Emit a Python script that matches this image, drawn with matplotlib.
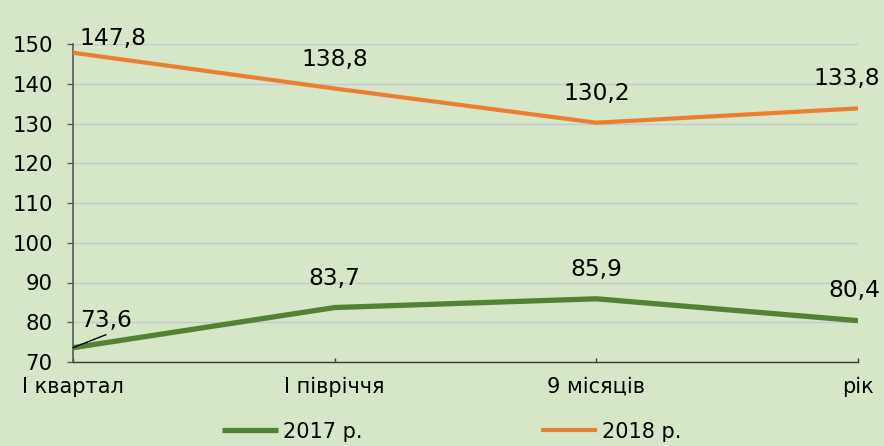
import matplotlib
matplotlib.use("Agg")
import matplotlib.pyplot as plt

# data
periods = ["I квартал", "I півріччя", "9 місяців", "рік"]
values_2017 = [73.6, 83.7, 85.9, 80.4]
values_2018 = [147.8, 138.8, 130.2, 133.8]
series_names = ["2017 р.", "2018 р."]
y_ticks = [70, 80, 90, 100, 110, 120, 130, 140, 150]

BG = "#d5e7c6"
GREEN = "#548235"
ORANGE = "#ed7d31"
AXIS_GREY = "#595959"

plt.rcParams['font.family'] = ['DejaVu Sans']

fig = plt.figure(figsize=(8.84, 4.46), dpi=100, facecolor=BG)
ax = fig.add_axes([73 / 884, 84 / 446, 785 / 884, 318 / 446])
ax.set_facecolor(BG)

x = list(range(len(periods)))
l17, = ax.plot(x, values_2017, color=GREEN, lw=3.8, solid_capstyle='butt',
               label=series_names[0], zorder=3)
l18, = ax.plot(x, values_2018, color=ORANGE, lw=3.0, solid_capstyle='butt',
               label=series_names[1], zorder=3)

ax.set_xlim(0, len(periods) - 1)
ax.set_ylim(y_ticks[0], y_ticks[-1])
ax.set_yticks(y_ticks)
ax.set_xticks(x)
ax.set_xticklabels(periods)

# grid + spines
ax.grid(axis='y', color='#c5c8d3', lw=1.0)
ax.set_axisbelow(True)
for s in ['top', 'right']:
    ax.spines[s].set_visible(False)
ax.spines['left'].set_color(AXIS_GREY)
ax.spines['bottom'].set_color('#3a3a3a')
ax.spines['left'].set_linewidth(1.2)
ax.spines['bottom'].set_linewidth(1.0)
ax.spines['bottom'].set_zorder(4)

ax.tick_params(axis='y', direction='out', length=4.5, width=1, color=AXIS_GREY,
               pad=10, labelsize=15.3)
ax.tick_params(axis='x', direction='in', length=3, width=1, color='#3a3a3a',
               pad=10.5, labelsize=15)

# data labels: pixel offsets of the label baseline from the point
offsets_2017 = [(33, 21), (0, 22.5), (0, 23), (-4, 23.5)]
offsets_2018 = [(40, 8), (0, 22.5), (0, 23), (-11, 23.5)]

def fmt(v):
    return f"{v:.1f}".replace(".", ",")

for vals, offs in [(values_2017, offsets_2017), (values_2018, offsets_2018)]:
    for i, v in enumerate(vals):
        ax.annotate(fmt(v), (x[i], v), xytext=offs[i], textcoords='offset pixels',
                    ha='center', va='baseline', fontsize=16.8, annotation_clip=False)

# leader line for the first 2017 label
ax.annotate("", (x[0], values_2017[0]), xytext=(33, 13), textcoords='offset pixels',
            arrowprops=dict(arrowstyle='-', color='black', lw=1, shrinkA=0, shrinkB=0),
            annotation_clip=False)

fig.legend(handles=[l17, l18], loc='center', bbox_to_anchor=(451.7 / 884, 14.5 / 446),
           ncol=2, frameon=False, fontsize=15, handlelength=2.68, handletextpad=0.21,
           columnspacing=8.6, borderaxespad=0)

fig.savefig("out.png", dpi=100, facecolor=BG)
